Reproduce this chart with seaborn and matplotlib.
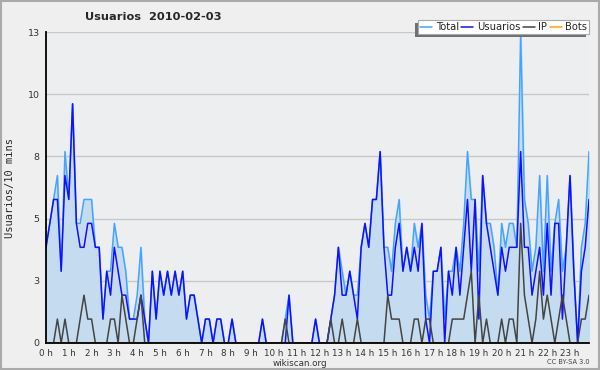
import numpy as np
import pandas as pd
import seaborn as sns
import matplotlib
matplotlib.use("Agg")
import matplotlib.pyplot as plt
from matplotlib.ticker import FixedLocator, MultipleLocator
from matplotlib.transforms import IdentityTransform

# 10-minute slots for 2010-02-03 (144 points)
total = [4, 5, 6, 7, 3, 8, 6, 10, 5, 5, 6, 6, 6, 4, 4, 1, 3, 3, 5, 4,
         4, 3, 1, 1, 2, 4, 1, 0, 3, 1, 3, 2, 3, 2, 3, 2, 3, 1, 2, 2,
         1, 0, 1, 1, 0, 1, 1, 0, 0, 1, 0, 0, 0, 0, 0, 0, 0, 1, 0, 0,
         0, 0, 0, 1, 2, 0, 0, 0, 0, 0, 0, 1, 0, 0, 0, 1, 2, 4, 3, 2,
         3, 2, 2, 4, 5, 4, 6, 6, 8, 4, 4, 3, 5, 6, 3, 4, 3, 5, 4, 5,
         2, 1, 3, 3, 4, 1, 3, 3, 4, 3, 5, 8, 6, 6, 3, 7, 5, 5, 4, 2,
         5, 4, 5, 5, 4, 13, 6, 5, 3, 4, 7, 3, 7, 3, 5, 6, 3, 4, 7, 3,
         0, 4, 5, 8]
usuarios = [4, 5, 6, 6, 3, 7, 6, 10, 5, 4, 4, 5, 5, 4, 4, 1, 3, 2, 4, 3,
            2, 2, 1, 1, 1, 2, 1, 0, 3, 1, 3, 2, 3, 2, 3, 2, 3, 1, 2, 2,
            1, 0, 1, 1, 0, 1, 1, 0, 0, 1, 0, 0, 0, 0, 0, 0, 0, 1, 0, 0,
            0, 0, 0, 0, 2, 0, 0, 0, 0, 0, 0, 1, 0, 0, 0, 1, 2, 4, 2, 2,
            3, 2, 1, 4, 5, 4, 6, 6, 8, 4, 2, 2, 4, 5, 3, 4, 3, 4, 3, 5,
            1, 0, 3, 3, 4, 0, 3, 2, 4, 2, 4, 6, 3, 6, 1, 7, 5, 4, 3, 2,
            4, 3, 4, 4, 4, 8, 4, 4, 2, 3, 4, 2, 5, 2, 5, 5, 1, 4, 7, 3,
            0, 3, 4, 6]
ip = [0, 0, 0, 1, 0, 1, 0, 0, 0, 1, 2, 1, 1, 0, 0, 0, 0, 1, 1, 0,
      2, 1, 0, 0, 1, 2, 0, 0, 0, 0, 0, 0, 0, 0, 0, 0, 0, 0, 0, 0,
      0, 0, 0, 0, 0, 0, 0, 0, 0, 0, 0, 0, 0, 0, 0, 0, 0, 0, 0, 0,
      0, 0, 0, 1, 0, 0, 0, 0, 0, 0, 0, 0, 0, 0, 0, 1, 0, 0, 1, 0,
      0, 0, 1, 0, 0, 0, 0, 0, 0, 0, 2, 1, 1, 1, 0, 0, 0, 1, 1, 0,
      1, 1, 0, 0, 0, 0, 0, 1, 1, 1, 1, 2, 3, 0, 2, 0, 1, 0, 0, 0,
      1, 0, 1, 1, 0, 5, 2, 1, 0, 1, 3, 1, 2, 1, 0, 1, 2, 1, 0, 0,
      0, 1, 1, 2]
bots = [0] * 144

hour_labels = [f"{h} h" for h in range(24)]
y_tick_labels = ["0", "3", "5", "8", "10", "13"]

df = pd.DataFrame({"slot": np.arange(len(total)), "Total": total,
                   "Usuarios": usuarios, "IP": ip, "Bots": bots})
long_df = df.melt(id_vars="slot", var_name="serie", value_name="n")

palette = {"Total": "#44a4ff", "Usuarios": "#1010ff", "IP": "#444444", "Bots": "#ffa500"}

sns.set_style("white")
plt.rcParams["font.family"] = ["DejaVu Sans"]

fig = plt.figure(figsize=(6, 3.7), dpi=100, facecolor="#efefef")
ax = fig.add_axes([46 / 600, 1 - 343 / 370, 543 / 600, 311 / 370])
ax.set_facecolor("#edeef0")

#filled area under total
ax.fill_between(df["slot"], df["Total"], color="#c5dcf0", zorder=1)

sns.lineplot(data=long_df, x="slot", y="n", hue="serie", palette=palette,
             hue_order=["Total", "Usuarios", "IP", "Bots"], linewidth=1.1,
             ax=ax, zorder=3)

ax.set_xlim(0, len(total) - 1)
ax.set_ylim(0, 13)

#y ticks at 13/5 steps, labels rounded
yt = np.linspace(0, 13, 6)
ax.yaxis.set_major_locator(FixedLocator(yt))
ax.set_yticklabels(y_tick_labels)
ax.yaxis.set_minor_locator(MultipleLocator(13 / 20))
ax.grid(axis="y", which="major", color="#c8c8c8", linewidth=1)
ax.set_axisbelow(True)

ax.set_xticks(np.arange(0, 144, 6))
ax.set_xticklabels(hour_labels)
ax.xaxis.set_minor_locator(MultipleLocator(1))

ax.tick_params(axis="both", which="both", direction="out", color="black",
               labelsize=6.3, labelcolor="#333333", width=1, pad=0.5)
ax.tick_params(axis="both", which="major", length=4)
ax.tick_params(axis="both", which="minor", length=3)
ax.tick_params(axis="y", labelsize=6.8)

for s in ["top", "right"]:
    ax.spines[s].set_visible(False)
for s in ["left", "bottom"]:
    ax.spines[s].set_color("black")
    ax.spines[s].set_linewidth(1.3)
    ax.spines[s].set_zorder(10)

ax.set_xlabel("")
ax.set_ylabel("Usuarios/10 mins", family="DejaVu Sans Mono", fontsize=7.5, labelpad=9)

handles, labels = ax.get_legend_handles_labels()
leg = ax.legend(handles, labels, loc="upper right", ncol=4, fontsize=7.2,
                bbox_to_anchor=(594 / 600, 1 - 15 / 370), bbox_transform=fig.transFigure,
                handlelength=1.2, handletextpad=0.35, columnspacing=0.25,
                borderpad=0.2, fancybox=False, framealpha=1, edgecolor="#aaaaaa")
leg.get_frame().set_linewidth(0.8)

#legend shadow offset to the lower left
fig.canvas.draw()
bb = leg.get_window_extent()
ax.add_patch(plt.Rectangle((bb.x0 - 3, bb.y0 - 3), bb.width, bb.height,
                           transform=IdentityTransform(), facecolor="#707070",
                           edgecolor="none", zorder=4.9, clip_on=False))

fig.text(85 / 600, 1 - 17 / 370, "Usuarios  2010-02-03", fontsize=8.2,
         fontweight="bold", va="center", ha="left")
fig.text(300 / 600, 1 - 363 / 370, "wikiscan.org", fontsize=6.3, ha="center",
         va="center", color="#333333")
fig.text(590 / 600, 1 - 362 / 370, "CC BY-SA 3.0", fontsize=4.8, ha="right",
         va="center", color="#444444")

#outer frame
fig.patches.append(plt.Rectangle((0.001, 0.002), 0.997, 0.996, transform=fig.transFigure,
                                 fill=False, edgecolor="#aaaaaa", linewidth=1.5))

fig.savefig("out.png", dpi=100, facecolor=fig.get_facecolor())
